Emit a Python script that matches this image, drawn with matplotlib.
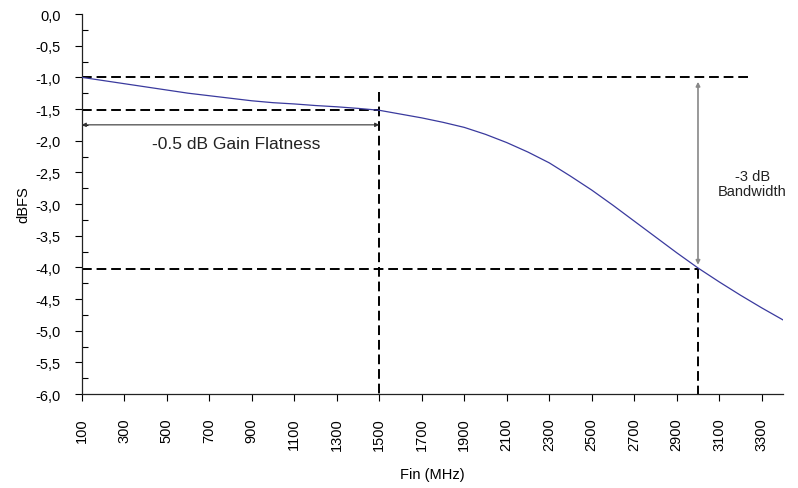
import matplotlib
matplotlib.use("Agg")
import matplotlib.pyplot as plt
from matplotlib.ticker import MultipleLocator, FuncFormatter

plt.rcParams['font.family'] = ['Liberation Sans', 'DejaVu Sans']
plt.rcParams['lines.scale_dashes'] = False

freq_mhz = [100, 200, 300, 400, 500, 600, 700, 800, 900, 1000, 1100, 1200,
            1300, 1400, 1500, 1600, 1700, 1800, 1900, 2000, 2100, 2200, 2300,
            2400, 2500, 2600, 2700, 2800, 2900, 3000, 3100, 3200, 3300, 3400]
dbfs = [-1.00, -1.05, -1.10, -1.15, -1.20, -1.25, -1.29, -1.33, -1.37, -1.40,
        -1.42, -1.445, -1.465, -1.49, -1.52, -1.58, -1.64, -1.71, -1.79, -1.90,
        -2.03, -2.18, -2.35, -2.56, -2.78, -3.02, -3.27, -3.52, -3.77, -4.01,
        -4.23, -4.44, -4.64, -4.83]
xtick_labels = list(range(100, 3301, 200))

flat_level = -1.52
bw_level = -4.02
ref_level = -1.0
flat_freq = 1500
bw_freq = 3000

fig = plt.figure(figsize=(7.98, 4.89), dpi=100)
ax = fig.add_axes([0.1024, 0.1922, 0.8788, 0.7771])

ax.plot(freq_mhz, dbfs, color='#3a3a9e', lw=0.9, zorder=3)

dash = dict(color='black', lw=1.4, ls=(0, (7, 3.5)), zorder=2)
ax.plot([100, 3235], [ref_level, ref_level], **dash)
ax.plot([100, flat_freq], [flat_level, flat_level], **dash)
ax.plot([flat_freq, flat_freq], [-1.23, -6.0], **dash)
ax.plot([100, bw_freq], [bw_level, bw_level], **dash)
ax.plot([bw_freq, bw_freq], [bw_level, -6.0], **dash)

ax.annotate('', xy=(100, -1.75), xytext=(flat_freq, -1.75),
            arrowprops=dict(arrowstyle='<|-|>', color='#333333', lw=0.8,
                            mutation_scale=6, shrinkA=0, shrinkB=0))
ax.annotate('', xy=(bw_freq, -1.07), xytext=(bw_freq, -3.96),
            arrowprops=dict(arrowstyle='<|-|>', color='#888888', lw=1.2,
                            mutation_scale=6, shrinkA=0, shrinkB=0))

ax.text(825, -2.05, '-0.5 dB Gain Flatness', ha='center', va='center', fontsize=12.5, color='#222222')
ax.text(3255, -2.67, '-3 dB\nBandwidth', ha='center', va='center', fontsize=10.5,
        color='#222222', linespacing=1.1)

ax.set_xlim(100, 3400)
ax.set_ylim(-6.0, 0.0)
ax.set_xticks(xtick_labels)
ax.set_xticklabels([str(v) for v in xtick_labels], rotation=90, fontsize=10.5)
ax.yaxis.set_major_locator(MultipleLocator(0.5))
ax.yaxis.set_minor_locator(MultipleLocator(0.25))
ax.yaxis.set_major_formatter(FuncFormatter(lambda v, p: f"{v:.1f}".replace('.', ',')))
ax.tick_params(axis='y', which='major', direction='out', length=5, width=0.8, labelsize=10.5, pad=10)
ax.tick_params(axis='y', which='minor', direction='in', length=4, width=0.8)
ax.tick_params(axis='x', which='major', direction='out', length=5, width=0.8, pad=12)

for s in ['top', 'right']:
    ax.spines[s].set_visible(False)
for s in ['left', 'bottom']:
    ax.spines[s].set_linewidth(0.9)
    ax.spines[s].set_color('#222222')

ax.set_xlabel('Fin (MHz)', fontsize=10.5, labelpad=12)
ax.set_ylabel('dBFS', fontsize=10.5, labelpad=4)

fig.savefig('out.png', dpi=100)
